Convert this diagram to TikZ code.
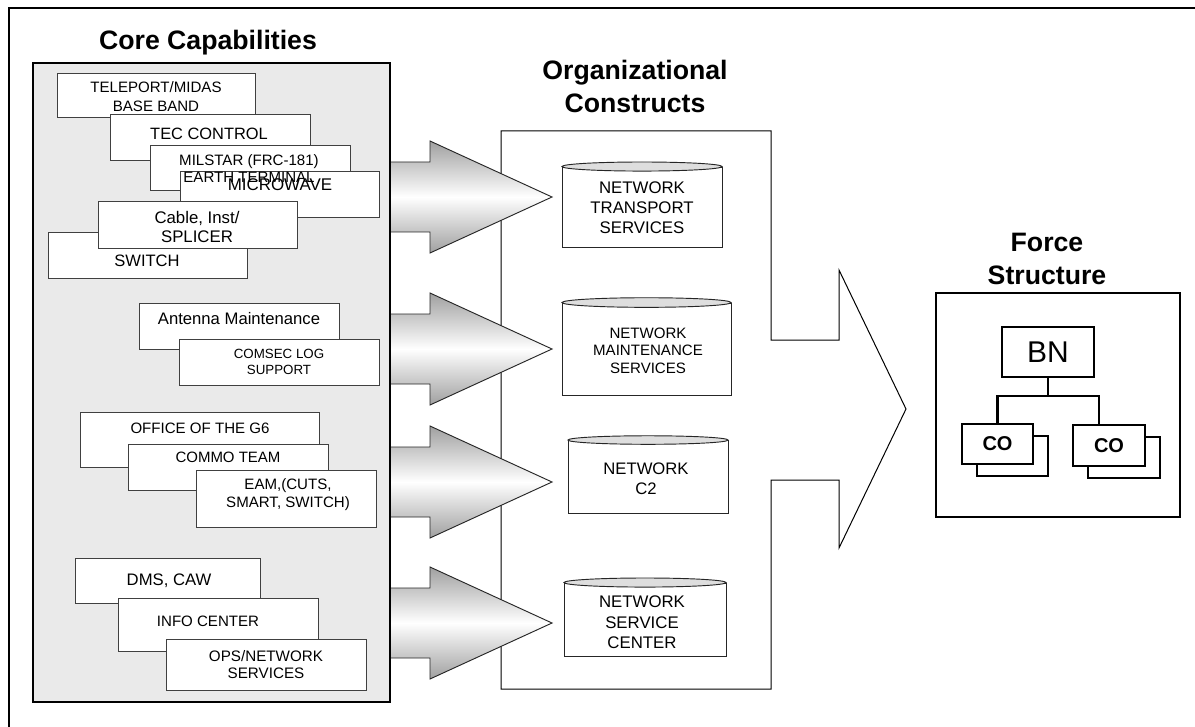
\documentclass[tikz,border=0pt]{standalone}
\usepackage{fontspec}
\setmainfont{Liberation Sans}
\usetikzlibrary{fit}
\definecolor{panelgray}{RGB}{234,234,234}
\definecolor{arrowgray}{RGB}{160,160,160}
\definecolor{topgray}{RGB}{222,222,222}
\newcommand\fsz[2]{\fontsize{#1}{#2}\selectfont}
\newcommand\blockarrow[1]{%
  \path[blockarr] (390,{#1-35}) -- (430,{#1-35}) -- (430,{#1-56}) -- (552,#1)
     -- (430,{#1+56}) -- (430,{#1+35}) -- (390,{#1+35}) -- cycle;}
\begin{document}
\begin{tikzpicture}[x=0.75pt,y=-0.75pt,
  cbox/.style={draw=black!75, fill=white, line width=0.7pt, inner sep=0pt},
  lbl/.style={inner sep=0pt, align=center, text=black},
  title/.style={lbl, font=\bfseries\fsz{20}{24.5}},
  panel/.style={draw=black, fill=panelgray, line width=2pt, inner sep=0pt},
  cylbody/.style={draw=black!85, fill=white, line width=0.7pt, inner sep=0pt},
  cyltop/.style={draw=black!85, fill=topgray, line width=0.7pt},
  blockarr/.style={draw=black!85, line width=0.7pt, top color=arrowgray, bottom color=arrowgray, middle color=white},
  orgbox/.style={draw=black, fill=white, line width=0.8pt, inner sep=0pt},
  orgline/.style={draw=black, line width=1.6pt}
]
\useasboundingbox (0,0) rectangle (1195,727);
\fill[white] (0,0) rectangle (1195,727);
% outer frame (partially visible)
\draw[line width=1.5pt] (9,727) -- (9,8) -- (1195,8);

% titles
\node[title] (tcore) at (208,43) {Core Capabilities};
\node[title] (torg) at (635,86.5) {Organizational\\Constructs};
\node[title] (tforce) at (1047,259) {Force\\Structure};

% organizational constructs frame (block arrow)
\draw[line width=0.75pt] (501,131) -- (771,131) -- (771,340) -- (839,340) -- (839,270)
  -- (906,409) -- (839,548) -- (839,480) -- (771,480) -- (771,689) -- (501,689) -- cycle;

% cylinders
\node[cylbody, fit={(562,167)(722,247)}] (cyl1) {};
\draw[cyltop] (cyl1.north) ellipse [x radius=60pt, y radius=3.4pt];
\node[cylbody, fit={(562,303)(731,395)}] (cyl2) {};
\draw[cyltop] (cyl2.north) ellipse [x radius=63.4pt, y radius=3.6pt];
\node[cylbody, fit={(568,440.5)(728,513)}] (cyl3) {};
\draw[cyltop] (cyl3.north) ellipse [x radius=60pt, y radius=3.2pt];
\node[cylbody, fit={(564,583)(726,656)}] (cyl4) {};
\draw[cyltop] (cyl4.north) ellipse [x radius=60.75pt, y radius=3.4pt];

\node[lbl, font=\fsz{12.6}{15}] (c1t) at (642,208) {NETWORK\\TRANSPORT\\SERVICES};
\node[lbl, font=\fsz{11.3}{13.1}] (c2t) at (648,350.5) {NETWORK\\MAINTENANCE\\SERVICES};
\node[lbl, font=\fsz{12.5}{15}] (c3t) at (646,479) {NETWORK\\C2};
\node[lbl, font=\fsz{12.6}{15.4}] (c4t) at (642,622.5) {NETWORK\\SERVICE\\CENTER};

% block arrows
\blockarrow{197}
\blockarrow{349}
\blockarrow{482}
\blockarrow{623}

% core capabilities panel
\node[panel, fit={(33,63)(390,702)}] (core) {};

% boxes (group 1)
\node[cbox, fit={(57,73)(255,117)}] (b1) {};
\node[cbox, fit={(110,114)(310,160)}] (b2) {};
\node[cbox, fit={(150,145)(350,190)}] (b3) {};
\node[cbox, fit={(180,171)(379,217)}] (b4) {};
\node[cbox, fit={(48,232)(247,278)}] (b6) {};
\node[cbox, fit={(98,201)(297,248)}] (b5) {};
% group 2
\node[cbox, fit={(139,303)(339,349)}] (b7) {};
\node[cbox, fit={(179,339)(379,385)}] (b8) {};
% group 3
\node[cbox, fit={(80,412)(319,467)}] (b9) {};
\node[cbox, fit={(128,444)(328,490)}] (b10) {};
\node[cbox, fit={(196,470)(376,527)}] (b11) {};
% group 4
\node[cbox, fit={(75,558)(260,603)}] (b12) {};
\node[cbox, fit={(118,598)(318,651)}] (b13) {};
\node[cbox, fit={(166,639)(366,690)}] (b14) {};

% box texts
\node[lbl, font=\fsz{11.3}{14.25}] (t1) at (156,96.5) {TELEPORT/MIDAS\\BASE BAND};
\node[lbl, font=\fsz{12.3}{14}] (t2) at (209,134) {TEC CONTROL};
\node[lbl, font=\fsz{11.3}{12.75}] (t3) at (249,168.5) {MILSTAR (FRC-181)\\EARTH TERMINAL};
\node[lbl, font=\fsz{12.7}{14}] (t4) at (280,185) {MICROWAVE};
\node[lbl, font=\fsz{12.6}{14.25}] (t5) at (197,226.5) {Cable, Inst/\\SPLICER};
\node[lbl, font=\fsz{12.4}{14}] (t6) at (147,261) {SWITCH};
\node[lbl, font=\fsz{12.5}{14}] (t7) at (239,319) {Antenna Maintenance};
\node[lbl, font=\fsz{10}{12}] (t8) at (279,362) {COMSEC LOG\\SUPPORT};
\node[lbl, font=\fsz{11.3}{13}] (t9) at (200,428) {OFFICE OF THE G6};
\node[lbl, font=\fsz{11.25}{13}] (t10) at (228,457) {COMMO TEAM};
\node[lbl, font=\fsz{11.3}{13.5}] (t11) at (288,495) {EAM,(CUTS,\\SMART, SWITCH)};
\node[lbl, font=\fsz{12.5}{14}] (t12) at (169,581) {DMS, CAW};
\node[lbl, font=\fsz{11.3}{13}] (t13) at (208,621) {INFO CENTER};
\node[lbl, font=\fsz{11.4}{12.75}] (t14) at (266,664.5) {OPS/NETWORK\\SERVICES};

% force structure
\node[draw=black, line width=1.8pt, fill=white, inner sep=0pt, fit={(936,293)(1180,517)}] (force) {};
\node[orgbox, minimum width=69pt, minimum height=37.5pt, font=\fsz{22.5}{26}] (bn) at (1048,352) {BN};
\node[orgbox, minimum width=53.25pt, minimum height=30pt] (co1b) at (1012.5,456) {};
\node[orgbox, minimum width=53.25pt, minimum height=30pt, font=\bfseries\fsz{15}{17}] (co1) at (997.5,444) {CO};
\node[orgbox, minimum width=54pt, minimum height=30.75pt] (co2b) at (1124,457.5) {};
\node[orgbox, minimum width=54pt, minimum height=30.75pt, font=\bfseries\fsz{15}{17}] (co2) at (1109,445.5) {CO};
\coordinate (jn) at (1048,396);
\coordinate (d2) at (1099,425);
\draw[orgline] (bn.south) -- (jn);
\draw[orgline] (co1.north) |- (jn);
\draw[orgline] (d2) |- (jn);
\end{tikzpicture}
\end{document}
